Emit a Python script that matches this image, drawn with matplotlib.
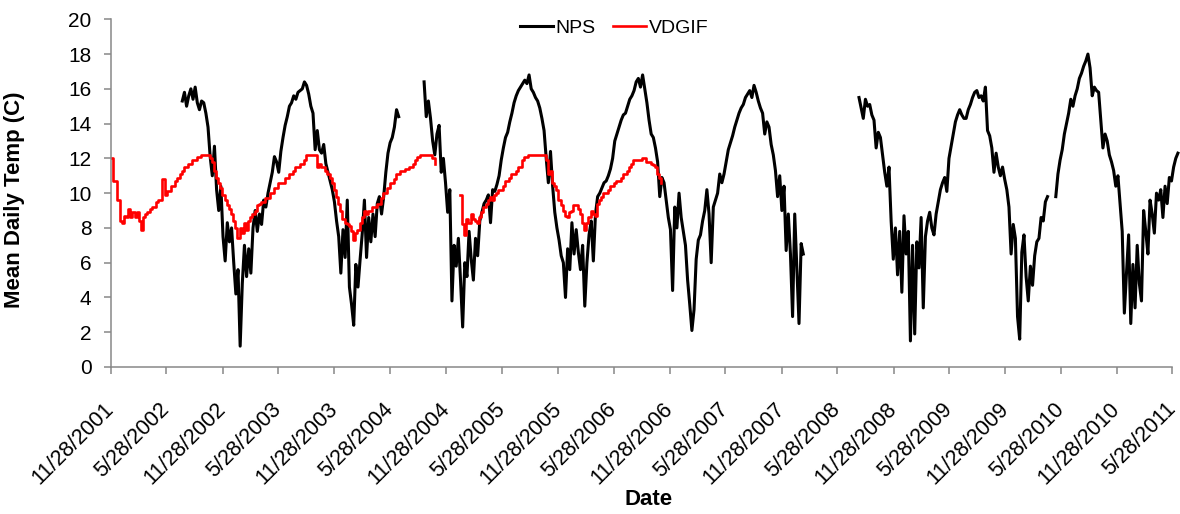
import matplotlib
matplotlib.use("Agg")
import matplotlib.pyplot as plt
import pandas as pd

plt.rcParams['font.family'] = ['Liberation Sans', 'DejaVu Sans']

# NPS mean daily temperature, weekly readings, one list per unbroken record
nps_a_start = "2002-07-19"
nps_a = [15.3, 15.8, 15.0, 15.6, 16.0, 15.4, 16.1, 15.2, 14.8, 15.3,
         15.2, 14.6, 13.8, 12.1, 11.0, 12.7, 10.2, 9.0, 10.4, 7.5,
         6.1, 8.3, 7.2, 8.0, 6.0, 4.2, 5.6, 1.2, 4.8, 7.0,
         5.2, 6.8, 5.4, 8.0, 9.0, 7.8, 8.8, 8.2, 9.6, 9.2,
         10.0, 10.6, 11.2, 12.1, 11.8, 11.2, 12.4, 13.2, 13.9, 14.4,
         15.0, 15.2, 15.6, 15.4, 15.8, 15.9, 16.0, 16.4, 16.2, 15.7,
         15.0, 14.6, 12.5, 13.6, 12.5, 12.3, 12.8, 11.7, 11.2, 10.7,
         10.2, 9.5, 8.4, 7.5, 5.4, 7.9, 6.3, 9.6, 4.6, 3.6,
         2.4, 5.9, 4.6, 6.2, 7.7, 9.6, 6.3, 8.6, 7.2, 8.8,
         7.5, 9.4, 9.8, 8.8, 9.8, 11.2, 12.3, 12.9, 13.2, 13.8,
         14.8, 14.4]

nps_b_start = "2004-09-16"
nps_b = [16.4, 14.4, 15.3, 14.3, 13.0, 12.2, 13.4, 13.9, 11.2, 12.0,
         10.6, 8.9, 10.2, 3.8, 7.0, 5.8, 7.4, 5.0, 2.3, 6.0,
         5.2, 7.8, 6.2, 5.0, 7.4, 6.4, 8.4, 8.9, 9.4, 9.6,
         9.9, 8.3, 10.2, 10.1, 10.5, 11.0, 11.9, 12.6, 13.2, 13.5,
         14.1, 14.6, 15.2, 15.6, 15.9, 16.1, 16.3, 16.5, 16.3, 16.8,
         16.0, 15.8, 15.5, 15.3, 14.9, 14.3, 13.6, 12.0, 10.6, 12.4,
         10.4, 8.9, 8.0, 7.3, 6.4, 6.0, 4.0, 6.8, 5.6, 8.3,
         6.5, 7.9, 6.6, 5.6, 7.0, 3.5, 6.0, 7.6, 8.4, 6.1,
         8.8, 9.8, 10.0, 10.3, 10.6, 10.7, 11.0, 11.4, 12.0, 13.0,
         13.4, 13.8, 14.2, 14.5, 14.6, 15.0, 15.4, 15.6, 15.9, 16.4,
         16.6, 16.1, 16.8, 16.0, 15.2, 14.2, 13.4, 13.2, 12.6, 11.8,
         9.8, 10.9, 10.6, 9.6, 8.6, 7.9, 4.4, 9.2, 8.0, 10.0,
         8.6, 7.8, 7.0, 5.0, 3.6, 2.1, 3.3, 6.2, 7.3, 7.6,
         8.4, 9.0, 10.2, 8.8, 6.0, 9.2, 9.6, 10.0, 11.1, 10.6,
         11.1, 11.8, 12.5, 12.9, 13.3, 13.8, 14.2, 14.6, 14.9, 15.1,
         15.5, 15.7, 15.9, 15.5, 16.2, 15.8, 15.3, 14.9, 14.6, 13.4,
         14.1, 13.8, 12.8, 12.2, 11.3, 9.8, 11.0, 9.0, 10.4, 6.7,
         8.8, 6.5, 2.9, 8.8, 5.6, 2.5, 7.1, 6.5]

nps_c_start = "2008-08-07"
nps_c = [15.5, 14.9, 14.3, 15.4, 15.0, 15.1, 14.5, 14.2, 12.6, 13.5,
         13.2, 12.2, 11.2, 10.4, 11.5, 8.4, 6.2, 8.0, 5.3, 7.8,
         4.3, 8.7, 6.5, 7.8, 1.5, 7.0, 1.9, 7.2, 5.7, 8.6,
         3.4, 7.5, 8.4, 8.9, 8.0, 7.6, 8.8, 9.5, 10.2, 10.6,
         10.9, 10.1, 12.0, 12.7, 13.4, 14.1, 14.5, 14.8, 14.5, 14.3,
         14.3, 14.8, 15.1, 15.5, 15.8, 15.9, 15.5, 15.6, 15.3, 16.1,
         13.6, 13.3, 12.6, 11.2, 12.3, 11.5, 11.0, 11.5, 10.8, 10.2,
         9.2, 6.5, 8.2, 7.4, 2.9, 1.6, 6.6, 7.6, 5.2, 3.8,
         5.8, 4.7, 6.4, 7.2, 7.4, 8.6, 8.4, 9.5, 9.8]

nps_d_start = "2010-05-12"
nps_d = [9.8, 11.1, 11.9, 12.5, 13.4, 14.0, 14.6, 15.4, 15.0, 15.6,
         16.0, 16.6, 16.9, 17.3, 17.6, 18.0, 17.2, 15.6, 16.1, 15.9,
         15.8, 14.2, 12.6, 13.4, 13.0, 12.2, 11.8, 11.3, 10.4, 11.0,
         9.4, 7.8, 3.1, 5.4, 7.6, 2.5, 5.9, 3.4, 7.0, 4.8,
         3.8, 9.0, 7.8, 6.5, 9.6, 8.8, 7.7, 10.0, 9.6, 10.2,
         8.6, 10.4, 9.4, 10.9, 10.7, 11.5, 12.0, 12.3]

# VDGIF record, weekly
vdgif_a_start = "2001-11-28"
vdgif_a = [12.0, 10.7, 10.7, 9.6, 8.4, 8.3, 8.7, 8.6, 9.1, 8.6,
           8.9, 8.6, 8.9, 8.4, 7.9, 8.6, 8.8, 8.9, 9.1, 9.2,
           9.2, 9.5, 9.6, 9.6, 10.8, 9.9, 10.1, 10.1, 10.4, 10.4,
           10.7, 10.9, 11.1, 11.3, 11.5, 11.5, 11.7, 11.7, 11.9, 11.9,
           12.1, 12.1, 12.2, 12.2, 12.2, 12.2, 12.0, 11.8, 11.3, 10.9,
           10.6, 10.3, 9.9, 9.6, 9.3, 9.1, 8.8, 8.4, 8.0, 7.4,
           8.0, 7.7, 8.3, 7.9, 8.4, 8.6, 8.8, 9.0, 9.3, 9.4,
           9.5, 9.5, 9.7, 9.7, 10.0, 10.0, 10.3, 10.3, 10.6, 10.6,
           10.6, 10.9, 10.9, 11.1, 11.1, 11.3, 11.5, 11.5, 11.7, 11.7,
           11.9, 12.2, 12.2, 12.2, 12.2, 12.2, 11.5, 11.7, 11.5, 11.5,
           11.3, 11.1, 10.9, 10.6, 10.2, 9.8, 9.4, 9.0, 8.5, 8.3,
           8.2, 8.1, 7.8, 7.3, 7.7, 7.9, 8.3, 8.6, 9.0, 8.8,
           9.0, 9.0, 9.2, 9.2, 9.4, 9.4, 9.7, 10.0, 10.0, 10.3,
           10.6, 10.6, 10.8, 11.1, 11.1, 11.3, 11.3, 11.4, 11.4, 11.5,
           11.5, 11.7, 11.9, 12.1, 12.2, 12.2, 12.2, 12.2, 12.2, 12.2,
           12.0, 11.7]

vdgif_b_start = "2005-01-11"
vdgif_b = [9.9, 8.2, 7.6, 8.5, 8.3, 8.8, 8.5, 8.4, 8.3, 8.6,
           8.9, 9.2, 9.4, 9.6, 9.8, 9.6, 9.9, 10.0, 10.2, 10.2,
           10.4, 10.7, 10.7, 10.9, 11.1, 11.1, 11.3, 11.5, 11.5, 11.9,
           12.1, 12.1, 12.2, 12.2, 12.2, 12.2, 12.2, 12.2, 12.2, 12.2,
           11.9, 11.1, 11.3, 10.6, 10.4, 10.2, 9.6, 9.3, 9.0, 8.7,
           8.6, 8.9, 9.0, 9.3, 9.3, 9.1, 8.8, 8.3, 7.9, 8.3,
           8.6, 9.0, 8.8, 8.7, 9.4, 9.6, 9.8, 10.0, 10.0, 10.2,
           10.4, 10.4, 10.6, 10.7, 10.7, 10.9, 11.1, 11.1, 11.3, 11.5,
           11.7, 11.9, 11.9, 11.9, 11.9, 12.0, 12.0, 11.8, 11.8, 11.7,
           11.6, 11.5, 11.1, 10.9, 10.6]

nps_segments = [(nps_a_start, nps_a), (nps_b_start, nps_b),
                (nps_c_start, nps_c), (nps_d_start, nps_d)]
vdgif_segments = [(vdgif_a_start, vdgif_a), (vdgif_b_start, vdgif_b)]

fig = plt.figure(figsize=(11.8, 5.14), dpi=100)
ax = fig.add_axes([111 / 1180, 1 - 367 / 514, 1061.4 / 1180, 347.7 / 514])

for i, (start, vals) in enumerate(nps_segments):
    dates = pd.date_range(start, periods=len(vals), freq="7D")
    ax.plot(dates, vals, color="black", lw=2.2, clip_on=False,
            label="NPS" if i == 0 else None)

for i, (start, vals) in enumerate(vdgif_segments):
    dates = pd.date_range(start, periods=len(vals), freq="7D")
    ax.plot(dates, vals, color="#ff0000", lw=1.9, drawstyle="steps-post",
            label="VDGIF" if i == 0 else None)

# date ticks every six months, 11/28 and 5/28
tick_dates = []
for yr in range(2001, 2012):
    for mo in (5, 11):
        d = pd.Timestamp(yr, mo, 28)
        if pd.Timestamp(2001, 11, 28) <= d <= pd.Timestamp(2011, 5, 28):
            tick_dates.append(d)
tick_labels = [f"{d.month}/{d.day}/{d.year}" for d in tick_dates]

ax.set_xlim(pd.Timestamp(2001, 11, 28), pd.Timestamp(2011, 5, 28))
ax.set_ylim(0, 20)
ax.set_yticks(range(0, 21, 2))
ax.set_xticks(tick_dates)
ax.set_xticklabels(tick_labels, rotation=45, ha="right", va="center",
                   rotation_mode="anchor")

ax.tick_params(axis="x", direction="out", length=5, width=1.1,
               color="#888888", pad=23, labelsize=15.5)
ax.tick_params(axis="y", direction="out", length=5, width=1.1,
               color="#888888", pad=9, labelsize=15)

for side in ("top", "right"):
    ax.spines[side].set_visible(False)
for side in ("left", "bottom"):
    ax.spines[side].set_color("#888888")
    ax.spines[side].set_linewidth(1.1)

ax.set_ylabel("Mean Daily Temp (C)", fontsize=16, fontweight="bold")
ax.yaxis.set_label_coords(-0.081, 0.48)
ax.set_xlabel("Date", fontsize=16, fontweight="bold")
ax.xaxis.set_label_coords(0.506, -0.35)

ax.legend(loc="center", bbox_to_anchor=(0.474, 0.975), ncol=2, frameon=False,
          fontsize=14, handlelength=1.7, handletextpad=0.15, columnspacing=0.9)

fig.savefig("out.png", dpi=100)
